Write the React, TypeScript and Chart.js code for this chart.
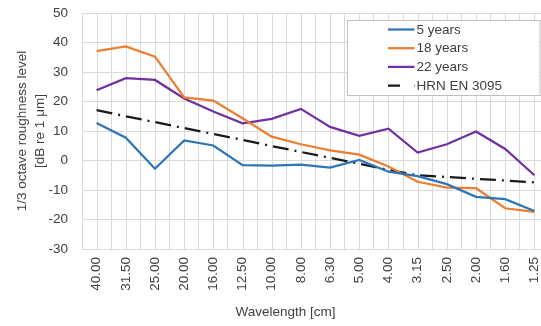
import React, { useEffect, useRef } from "react";
import { Chart, registerables } from "chart.js";

Chart.register(...registerables);

const categories = ["40.00", "31.50", "25.00", "20.00", "16.00", "12.50", "10.00", "8.00", "6.30", "5.00", "4.00", "3.15", "2.50", "2.00", "1.60", "1.25"];
const years5 = [12.7, 7.7, -2.8, 6.8, 5.1, -1.6, -1.7, -1.4, -2.4, 0.2, -3.8, -5.3, -8.0, -12.3, -13.1, -17.1];
const years18 = [37.1, 38.7, 35.2, 21.4, 20.3, 14.3, 8.1, 5.5, 3.4, 2.0, -2.0, -7.2, -9.2, -9.4, -16.2, -17.4];
const years22 = [23.8, 27.9, 27.3, 21.0, 16.6, 12.6, 14.1, 17.5, 11.4, 8.4, 10.8, 2.7, 5.5, 9.8, 3.9, -5.0];
const hrnEn3095 = [17.1, 15.0, 13.0, 11.0, 9.0, 7.0, 4.9, 2.9, 0.9, -1.1, -3.2, -5.0, -5.6, -6.2, -6.8, -7.4];
const yTicks = { min: -30, max: 50, step: 10 };

const seriesNames = ["5 years", "18 years", "22 years", "HRN EN 3095"];
const seriesColors = ["#2E75B6", "#ED7D31", "#7030A0", "#1a1a1a"];
const hrnDash = [16, 6, 2, 6];

const FONT = "'Liberation Sans', Arial, sans-serif";
const TEXT = "#404040";
const GRID = "#d9d9d9";

const extrasPlugin = {
  id: "extras",
  beforeDatasetsDraw(chart: any) {
    const { ctx, chartArea } = chart;
    const xs = chart.scales.x;
    ctx.save();
    ctx.strokeStyle = GRID;
    ctx.lineWidth = 1;
    for (let i = 0; i < categories.length; i++) {
      const px = Math.round(xs.getPixelForValue(i)) + 0.5;
      ctx.beginPath();
      ctx.moveTo(px, chartArea.top);
      ctx.lineTo(px, chartArea.bottom);
      ctx.stroke();
    }
    ctx.restore();
  },
  afterDraw(chart: any) {
    const { ctx, chartArea } = chart;
    ctx.save();
    // x-axis title
    ctx.fillStyle = TEXT;
    ctx.font = `13.5px ${FONT}`;
    ctx.textAlign = "center";
    ctx.textBaseline = "alphabetic";
    ctx.fillText("Wavelength [cm]", chartArea.left + 203.5, chartArea.bottom + 67);

    // legend box
    const bx = chartArea.left + 265.5;
    const by = chartArea.top + 7.5;
    const bw = 192.5;
    const bh = 75;
    ctx.fillStyle = "#ffffff";
    ctx.fillRect(bx, by, bw, bh);
    ctx.strokeStyle = "#bfbfbf";
    ctx.lineWidth = 1;
    ctx.strokeRect(bx, by, bw, bh);
    const rowH = 18.7;
    for (let i = 0; i < seriesNames.length; i++) {
      const cy = by + 9 + i * rowH;
      ctx.beginPath();
      ctx.strokeStyle = seriesColors[i];
      ctx.lineWidth = 2.25;
      ctx.setLineDash(i === 3 ? [12, 14, 2, 4] : []);
      ctx.moveTo(bx + 40.5, cy);
      ctx.lineTo(bx + 67, cy);
      ctx.stroke();
      ctx.setLineDash([]);
      ctx.fillStyle = TEXT;
      ctx.font = `13.5px ${FONT}`;
      ctx.textAlign = "left";
      ctx.textBaseline = "middle";
      ctx.fillText(seriesNames[i], bx + 69, cy + 0.5);
    }
    ctx.restore();
  },
};

export default function App() {
  const ref = useRef<HTMLCanvasElement>(null);
  useEffect(() => {
    const canvas = ref.current;
    if (!canvas) return;
    const data = [years5, years18, years22, hrnEn3095];
    const chart = new Chart(canvas, {
      type: "line",
      data: {
        labels: categories,
        datasets: data.map((d, i) => ({
          label: seriesNames[i],
          data: d,
          borderColor: seriesColors[i],
          backgroundColor: seriesColors[i],
          borderWidth: 2.25,
          borderDash: i === 3 ? hrnDash : [],
          pointRadius: 0,
          tension: 0,
          fill: false,
        })),
      },
      options: {
        responsive: false,
        animation: false,
        layout: { padding: { top: 13, right: 11, bottom: 0, left: 0 } },
        plugins: { legend: { display: false }, tooltip: { enabled: false } },
        scales: {
          x: {
            type: "category",
            offset: true,
            grid: { color: GRID, offset: true, drawTicks: false },
            border: { color: GRID },
            ticks: {
              color: TEXT,
              font: { family: FONT, size: 13.5 },
              minRotation: 90,
              maxRotation: 90,
              autoSkip: false,
              padding: 8,
            },
            afterFit: (s: any) => {
              s.height = 77;
            },
          },
          y: {
            min: yTicks.min,
            max: yTicks.max,
            grid: { color: GRID, drawTicks: true, tickLength: 14, tickColor: "rgba(0,0,0,0)" },
            border: { color: GRID },
            ticks: {
              stepSize: yTicks.step,
              color: TEXT,
              font: { family: FONT, size: 13.5 },
              padding: 0,
            },
            title: {
              display: true,
              text: ["1/3 octave roughness level", "[dB re 1 μm]"],
              color: TEXT,
              font: { family: FONT, size: 13.5, lineHeight: 18 / 13.5 },
              padding: { top: 13, bottom: 0 },
            },
            afterFit: (s: any) => {
              s.width = 82;
            },
          },
        },
      },
      plugins: [extrasPlugin],
    });
    return () => chart.destroy();
  }, []);
  return (
    <div style={{ position: "fixed", left: 0, top: 0, width: 541, height: 326, overflow: "hidden", background: "#fff" }}>
      <canvas ref={ref} width={560} height={326} style={{ display: "block" }} />
    </div>
  );
}
